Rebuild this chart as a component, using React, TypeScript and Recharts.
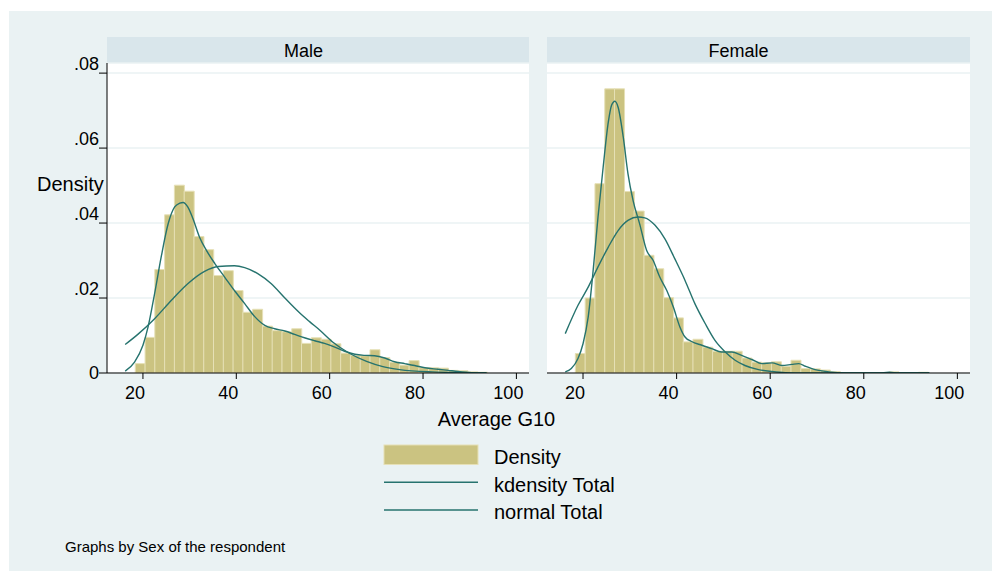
import React from 'react';
import { ComposedChart, Bar, Line, XAxis, YAxis, CartesianGrid } from 'recharts';

// ---------- data ----------
const panelTitles = ['Male', 'Female'];
const binCenters = [
  19.4, 21.5, 23.59, 25.69, 27.78, 29.88, 31.97, 34.07, 36.16, 38.26, 40.35, 42.45,
  44.54, 46.64, 48.73, 50.83, 52.92, 55.02, 57.11, 59.21, 61.3, 63.4, 65.49, 67.59,
  69.68, 71.78, 73.87, 75.97, 78.06, 80.16, 82.25, 84.35, 86.44, 88.54, 90.63, 92.73,
];
const maleDensity = [
  0.0025, 0.0095, 0.0276, 0.0422, 0.0501, 0.0485, 0.0364, 0.0329, 0.026, 0.0273, 0.022, 0.0162,
  0.017, 0.0125, 0.0113, 0.011, 0.0118, 0.0079, 0.0094, 0.009, 0.0078, 0.0053, 0.0047, 0.0046,
  0.0062, 0.0041, 0.0029, 0.0021, 0.0033, 0.0014, 0.0014, 0.0013, 0.0007, 0.0006, 0.0003, 0.0002,
];
const femaleDensity = [
  0.0052, 0.02, 0.0505, 0.0758, 0.0758, 0.0484, 0.0432, 0.0314, 0.0278, 0.0201, 0.0147, 0.0083,
  0.009, 0.0069, 0.0058, 0.0058, 0.0058, 0.004, 0.0029, 0.0027, 0.003, 0.0018, 0.0034, 0.0012,
  0.0011, 0.0008, 0.0004, 0, 0, 0, 0, 0, 0.0003, 0, 0, 0.0002,
];
const maleKdensity: [number, number][] = [
  [16.2, 0.0005], [18.2, 0.0029], [20, 0.0074], [21.1, 0.0123], [22.5, 0.0212], [23.9, 0.0309],
  [25.4, 0.0398], [26.8, 0.0443], [27.9, 0.0453], [28.6, 0.0455], [29.6, 0.0443], [30.7, 0.0412],
  [32.1, 0.0363], [33.6, 0.0327], [35.4, 0.0292], [37.5, 0.0256], [39.6, 0.022], [41.8, 0.0185],
  [43.9, 0.0151], [46.1, 0.0127], [48.2, 0.0118], [50.4, 0.0112], [52.5, 0.0103], [54.6, 0.0094],
  [56.8, 0.0086], [58.9, 0.0079], [61.1, 0.0069], [63.2, 0.0058], [65.4, 0.005], [67.5, 0.0047],
  [69.6, 0.0046], [71.8, 0.004], [73.9, 0.003], [76.1, 0.0025], [78.2, 0.002], [80.4, 0.0014],
  [83.2, 0.001], [85.4, 0.0007], [87.5, 0.0004], [90.4, 0.0001], [93.6, 0],
];
const maleNormal: [number, number][] = [
  [16.2, 0.0076], [18.9, 0.0103], [22.5, 0.0145], [26.1, 0.0194], [29.6, 0.0238], [33.2, 0.0271],
  [36.1, 0.0284], [39.6, 0.0286], [41.8, 0.0281], [44.6, 0.0265], [47.5, 0.0238], [50.4, 0.02],
  [53.6, 0.016], [55.7, 0.0137], [57.9, 0.0114], [60.7, 0.0082], [64.3, 0.0052], [67.9, 0.0031],
  [71.4, 0.0017], [75, 0.0009], [82, 0.0003], [93.6, 0],
];
const femaleKdensity: [number, number][] = [
  [16.2, 0.0003], [17.5, 0.0012], [18.9, 0.0038], [20, 0.0078], [21.1, 0.0149], [22.1, 0.0265],
  [23.2, 0.0416], [24.3, 0.0549], [25.4, 0.0669], [26.1, 0.0714], [26.8, 0.0725], [27.5, 0.0709],
  [28.6, 0.0629], [29.6, 0.0532], [30.7, 0.046], [32.1, 0.0398], [33.6, 0.0327], [35, 0.03],
  [36.4, 0.0256], [37.9, 0.022], [39.3, 0.0176], [40.7, 0.0123], [41.8, 0.0096], [43.2, 0.0084],
  [45.4, 0.0074], [47.5, 0.0065], [49.6, 0.0056], [51.8, 0.0056], [53.9, 0.0047], [56.1, 0.0036],
  [58.2, 0.0025], [60.4, 0.0027], [62.5, 0.002], [64.6, 0.0023], [66.1, 0.0025], [67.5, 0.0018],
  [69.6, 0.0009], [72.5, 0.0003], [76.1, 0], [83.2, 0], [85.4, 0.0002], [87.5, 0], [94, 0],
];
const femaleNormal: [number, number][] = [
  [16.2, 0.0105], [18.9, 0.018], [21.1, 0.0229], [23.2, 0.0283], [25.4, 0.0336], [27.5, 0.038],
  [29.6, 0.0407], [31.8, 0.0416], [33.2, 0.0414], [35.4, 0.0394], [37.5, 0.0358], [39.6, 0.0305],
  [41.8, 0.0247], [43.9, 0.0185], [46.1, 0.0132], [48.2, 0.0087], [50.4, 0.0056], [52.5, 0.0034],
  [54.6, 0.002], [57.5, 0.0009], [60.4, 0.0004], [63.2, 0.0001], [67.5, 0], [94, 0],
];
const xTicks = [20, 40, 60, 80, 100];
const yTicks = [0, 0.02, 0.04, 0.06, 0.08];
const yTickLabels = ['0', '.02', '.04', '.06', '.08'];
const legendLabels = ['Density', 'kdensity Total', 'normal Total'];
const xTitle = 'Average G10';
const yTitle = 'Density';
const note = 'Graphs by Sex of the respondent';

// ---------- style ----------
const FONT = "'Liberation Sans', Arial, Helvetica, sans-serif";
const BG = '#eaf2f3';
const STRIP = '#d9e6eb';
const BAR = '#cbc381';
const BAR_EDGE = '#e6e0b6';
const CURVE = '#26736e';
const GRID = '#eaf2f3';
const X_DOMAIN: [number, number] = [12.3, 102.7];
const Y_DOMAIN: [number, number] = [0, 0.0827];

const XTick = (props: any) => {
  const { x, y, payload } = props;
  return (
    <text x={x - 8} y={y + 18} textAnchor="middle" fontSize={18} fontFamily={FONT} fill="#000">
      {payload.value}
    </text>
  );
};

const YTick = (props: any) => {
  const { x, y, payload } = props;
  const idx = yTicks.indexOf(payload.value);
  const label = idx >= 0 ? yTickLabels[idx] : String(payload.value);
  const dy = payload.value === 0 ? 5.5 : -3.4;
  return (
    <text x={x + 2} y={y + dy} textAnchor="end" fontSize={18} fontFamily={FONT} fill="#000">
      {label}
    </text>
  );
};

function Panel({ index }: { index: number }) {
  const isMale = index === 0;
  const dens = isMale ? maleDensity : femaleDensity;
  const bars = binCenters.map((x, i) => ({ x, d: dens[i] }));
  const kd = (isMale ? maleKdensity : femaleKdensity).map(([v, d]) => ({ v, d }));
  const nm = (isMale ? maleNormal : femaleNormal).map(([v, d]) => ({ v, d }));
  return (
    <ComposedChart
      width={isMale ? 540 : 440}
      height={410}
      data={bars}
      barCategoryGap={0}
      barGap={0}
      margin={{ top: 63, right: isMale ? 11 : 10, bottom: 7, left: isMale ? 0 : 7 }}
    >
      <CartesianGrid
        xAxisId="curves"
        vertical={false}
        stroke={GRID}
        strokeWidth={1.5}
        fill="#ffffff"
        fillOpacity={1}
      />
      <XAxis
        xAxisId="bars"
        orientation="top"
        height={0}
        type="number"
        dataKey="x"
        domain={X_DOMAIN}
        allowDataOverflow
        hide
      />
      <XAxis
        xAxisId="curves"
        type="number"
        dataKey="v"
        domain={X_DOMAIN}
        allowDataOverflow
        ticks={xTicks}
        interval={0}
        tickSize={6}
        height={30}
        axisLine={{ stroke: '#000', strokeWidth: 1 }}
        tickLine={{ stroke: '#000', strokeWidth: 1 }}
        tick={<XTick />}
      />
      <YAxis
        type="number"
        domain={Y_DOMAIN}
        allowDataOverflow
        ticks={yTicks}
        interval={0}
        width={isMale ? 107 : 0}
        hide={!isMale}
        tickSize={8}
        axisLine={{ stroke: '#000', strokeWidth: 1 }}
        tickLine={{ stroke: '#000', strokeWidth: 1 }}
        tick={<YTick />}
      />
      <Bar
        xAxisId="bars"
        dataKey="d"
        fill={BAR}
        stroke={BAR_EDGE}
        strokeWidth={1}
        isAnimationActive={false}
      />
      <Line
        xAxisId="curves"
        data={kd}
        dataKey="d"
        type="monotone"
        dot={false}
        activeDot={false}
        stroke={CURVE}
        strokeWidth={1.4}
        isAnimationActive={false}
      />
      <Line
        xAxisId="curves"
        data={nm}
        dataKey="d"
        type="monotone"
        dot={false}
        activeDot={false}
        stroke={CURVE}
        strokeWidth={1.4}
        isAnimationActive={false}
      />
    </ComposedChart>
  );
}

export default function App() {
  return (
    <div style={{ position: 'absolute', left: 0, top: 0, width: 992, height: 571, background: '#fff', overflow: 'hidden' }}>
      <div style={{ position: 'absolute', left: 9, top: 11, width: 983, height: 560, background: BG }} />
      <div style={{ position: 'absolute', left: 107, top: 37, width: 422, height: 26, background: STRIP }} />
      <div style={{ position: 'absolute', left: 547, top: 37, width: 423, height: 26, background: STRIP }} />
      <div style={{ position: 'absolute', left: 0, top: 0 }}>
        <Panel index={0} />
      </div>
      <div style={{ position: 'absolute', left: 540, top: 0 }}>
        <Panel index={1} />
      </div>
      <svg width={992} height={571} style={{ position: 'absolute', left: 0, top: 0, pointerEvents: 'none' }}>
        <g fontFamily={FONT} fill="#000">
          <text x={303.5} y={57} fontSize={18} textAnchor="middle">{panelTitles[0]}</text>
          <text x={738.5} y={57} fontSize={18} textAnchor="middle">{panelTitles[1]}</text>
          <text x={37} y={191} fontSize={20}>{yTitle}</text>
          <text x={496.5} y={426} fontSize={20} textAnchor="middle">{xTitle}</text>
          <rect x={384} y={445} width={94} height={19.5} fill={BAR} stroke={BAR_EDGE} strokeWidth={1} />
          <line x1={384} x2={478} y1={482.3} y2={482.3} stroke={CURVE} strokeWidth={1.4} />
          <line x1={384} x2={478} y1={510} y2={510} stroke={CURVE} strokeWidth={1.4} />
          <text x={494} y={464} fontSize={20}>{legendLabels[0]}</text>
          <text x={494} y={491.7} fontSize={20}>{legendLabels[1]}</text>
          <text x={494} y={519.3} fontSize={20}>{legendLabels[2]}</text>
          <text x={65} y={552} fontSize={15}>{note}</text>
        </g>
      </svg>
    </div>
  );
}
